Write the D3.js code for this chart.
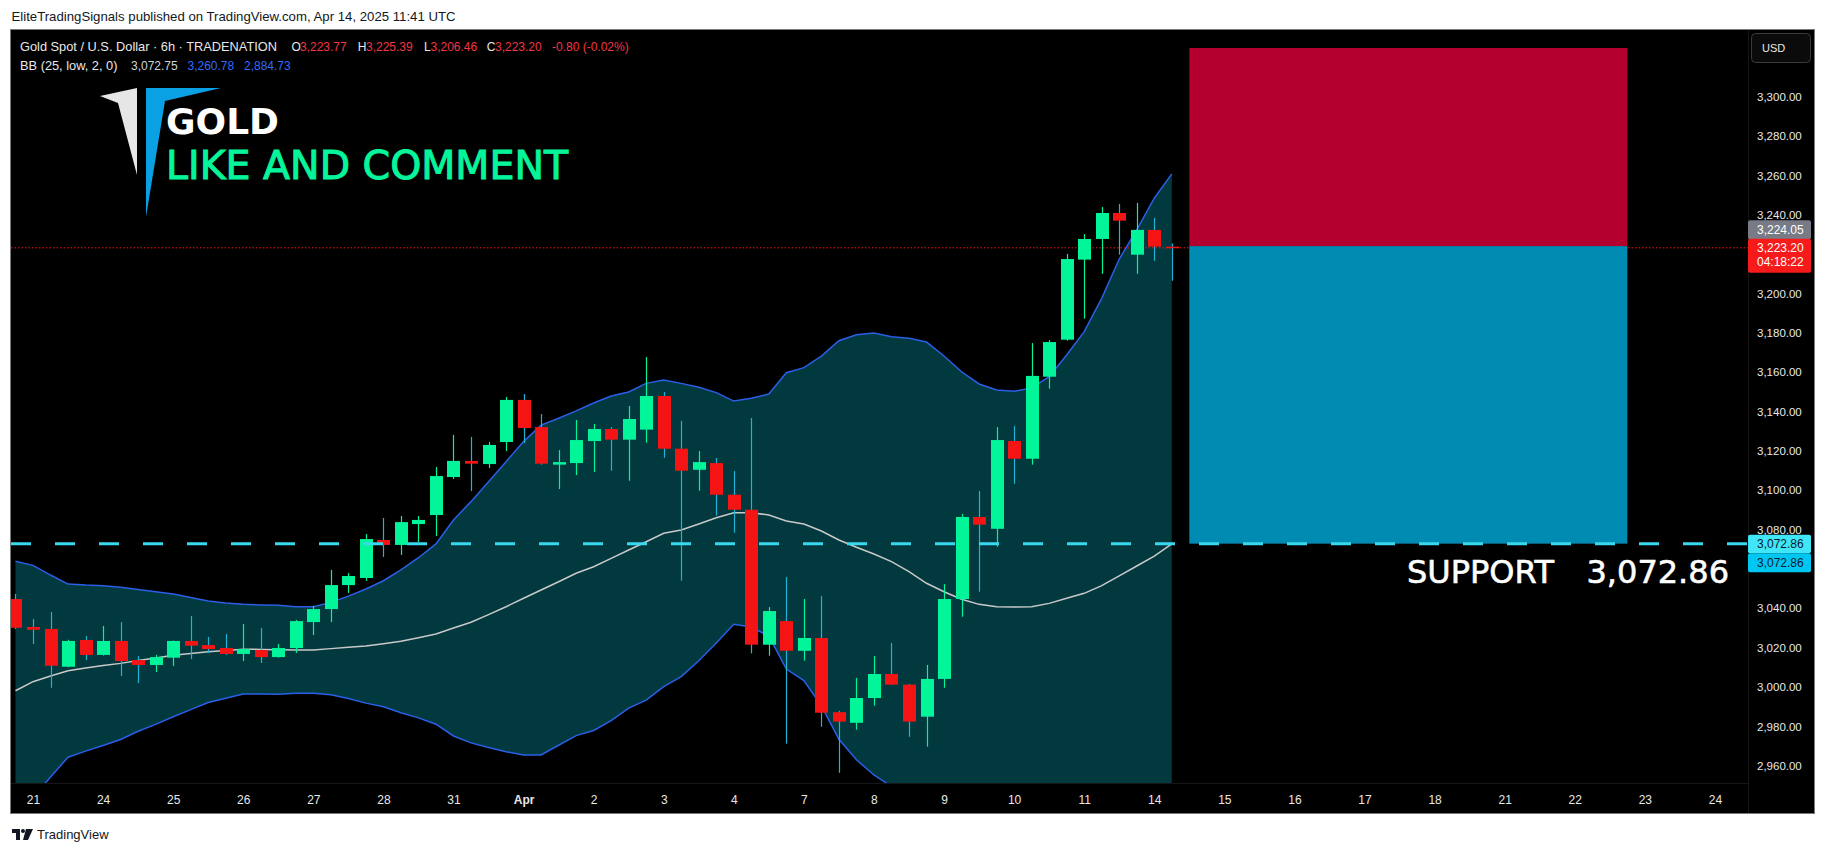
<!DOCTYPE html>
<html><head><meta charset="utf-8">
<script src="https://cdn.jsdelivr.net/npm/d3@7"></script>
<style>
html,body{margin:0;padding:0;background:#fff;}
svg{display:block;}
</style></head>
<body>
<svg id="c" width="1826" height="853"></svg>
<script>
// ---------- DATA ----------
const dayLabels = ["21","24","25","26","27","28","31","Apr","2","3","4","7","8","9","10","11","14","15","16","17","18","21","22","23","24"];
const barsPerDay = 4;
const firstBarIndex = -1; // first candle sits one bar before the "21" label

const opens  = [3044.7,3030.5,3029.5,3010.3,3023.9,3016.3,3023.4,3013.7,3011.2,3014.9,3023.4,3021.3,3019.8,3016.8,3018.8,3015.2,3019.8,3033.0,3039.6,3051.8,3055.4,3074.7,3072.2,3082.8,3087.4,3106.7,3114.9,3113.3,3124.5,3145.9,3132.1,3113.0,3113.8,3125.0,3131.1,3125.7,3130.8,3147.9,3121.1,3110.4,3113.8,3097.7,3090.1,3021.5,3033.5,3018.4,3024.9,2987.2,2981.8,2994.4,3006.6,3001.2,2984.9,3004.1,3044.7,3086.4,3080.4,3125.0,3116.0,3157.7,3176.5,3217.2,3227.7,3240.9,3219.7,3232.3,3223.77];
const highs  = [3047.3,3034.6,3038.1,3024.0,3025.9,3031.0,3033.0,3015.7,3016.3,3023.6,3036.1,3025.4,3026.9,3032.0,3030.0,3021.8,3034.0,3041.2,3059.5,3057.9,3077.7,3085.9,3086.9,3086.9,3111.8,3128.1,3127.1,3124.5,3147.4,3148.9,3138.7,3120.4,3135.7,3133.7,3132.1,3142.8,3167.7,3149.9,3135.2,3119.9,3116.4,3109.8,3136.7,3040.6,3055.9,3044.7,3046.2,2987.9,3004.6,3015.7,3022.4,3001.5,3011.2,3052.3,3087.9,3099.6,3132.1,3132.6,3174.8,3176.3,3220.1,3230.2,3243.9,3245.5,3246.0,3238.4,3225.39];
const lows   = [3029.5,3021.8,2999.6,3010.0,3013.7,3016.0,3005.6,3002.0,3007.6,3010.7,3014.2,3017.3,3016.3,3013.2,3012.2,3015.0,3017.3,3026.4,3033.0,3047.8,3053.9,3066.1,3067.1,3073.7,3076.7,3105.7,3099.6,3111.3,3119.9,3124.0,3113.0,3100.6,3107.7,3109.3,3109.9,3104.8,3124.2,3116.5,3054.0,3099.8,3087.1,3078.4,3017.1,3015.9,2971.2,3013.4,2979.8,2956.4,2978.3,2990.5,3001.0,2974.7,2969.7,2999.6,3035.7,3048.4,3071.3,3103.3,3113.0,3151.6,3176.0,3187.2,3210.0,3219.7,3210.0,3216.6,3206.46];
const closes = [3030.1,3029.1,3010.8,3023.4,3016.3,3023.4,3013.2,3011.2,3015.2,3023.4,3021.0,3019.3,3016.8,3019.3,3015.2,3019.8,3033.5,3039.6,3051.8,3056.4,3075.2,3072.2,3083.8,3084.9,3107.2,3114.9,3113.5,3123.0,3145.9,3131.6,3113.5,3114.3,3125.5,3131.1,3125.7,3136.2,3147.9,3121.1,3109.9,3114.3,3097.7,3090.1,3021.5,3038.6,3018.4,3024.9,2986.9,2982.4,2994.4,3006.6,3001.2,2982.4,3004.1,3044.7,3086.4,3082.5,3125.5,3116.0,3158.1,3175.3,3217.5,3227.7,3240.9,3237.0,3232.3,3223.8,3223.20];

const bbUpper = [3063.9,3061.8,3056.9,3052.3,3051.8,3051.5,3050.7,3049.5,3048.4,3047.3,3045.5,3043.7,3042.7,3042.0,3041.7,3041.5,3040.8,3040.8,3043.0,3046.2,3049.8,3054.0,3059.5,3065.7,3072.7,3084.9,3094.2,3104.3,3114.5,3124.7,3133.1,3136.6,3140.3,3144.3,3147.9,3149.9,3154.3,3156.0,3154.3,3152.3,3149.6,3145.3,3146.7,3148.9,3159.7,3162.3,3168.2,3176.0,3179.0,3179.9,3178.0,3177.2,3175.3,3168.2,3160.2,3154.0,3150.9,3150.3,3152.0,3157.7,3168.7,3180.6,3197.5,3217.5,3232.3,3248.4,3260.78];
const bbBasis = [2998.1,3002.7,3005.6,3008.3,3009.6,3010.9,3012.0,3013.5,3014.7,3016.1,3017.0,3017.9,3018.5,3019.2,3019.1,3018.9,3018.8,3018.8,3019.5,3020.2,3020.8,3022.0,3023.2,3025.0,3026.9,3030.0,3032.9,3036.8,3040.8,3045.1,3049.3,3053.5,3057.8,3061.1,3065.4,3069.6,3073.8,3078.1,3079.8,3082.8,3086.0,3088.6,3088.6,3087.4,3084.4,3082.8,3079.3,3074.7,3071.0,3067.6,3063.7,3058.6,3052.7,3048.4,3044.6,3042.0,3040.8,3040.6,3040.8,3042.5,3045.1,3047.6,3051.5,3056.5,3061.5,3066.5,3072.75];
const bbLower = [2932.3,2943.6,2954.3,2964.3,2967.4,2970.3,2973.3,2977.5,2981.0,2984.9,2988.5,2992.1,2994.3,2996.4,2996.5,2996.3,2996.8,2996.8,2996.0,2994.2,2991.8,2990.0,2986.9,2984.3,2981.1,2975.1,2971.6,2969.3,2967.1,2965.5,2965.5,2970.4,2975.3,2977.9,2982.9,2989.3,2993.3,3000.2,3005.3,3013.3,3022.4,3031.9,3030.5,3025.9,3009.1,3003.3,2990.4,2973.4,2963.0,2955.3,2949.4,2940.0,2930.1,2928.6,2929.0,2930.0,2930.7,2930.9,2929.6,2927.3,2921.5,2914.6,2905.5,2895.5,2890.7,2884.6,2884.73];

// ticks shown on the price scale (3,060 and 3,220 are hidden behind the price tags)
const priceTicks = [2960,2980,3000,3020,3040,3080,3100,3120,3140,3160,3180,3200,3240,3260,3280,3300];

const supportLevel = 3072.86;
const lastPrice = 3223.20;
const askPrice = 3224.05;
const countdown = "04:18:22";
const positionBars = [66, 91];           // start / end bar of the position tool
const positionLevels = [3324.75, 3224.05, 3072.86]; // stop, entry, target

const legendLabels = ["O","H","L","C"];
const legendValues = ["3,223.77","3,225.39","3,206.46","3,223.20"];
const legendChange = "-0.80 (-0.02%)";
const bbValues = ["3,072.75","3,260.78","2,884.73"];

// ---------- LAYOUT ----------
const svg = d3.select("#c");
const W = 1826, H = 853;
const frame = {l: 11, t: 30, r: 1814, b: 813};
const plot = {l: 11, t: 31, r: 1748, b: 783};
const FONT = "'Liberation Sans', Arial, sans-serif";

const x = d3.scaleLinear().domain([0, 96]).range([33, 33 + 96 * 17.52]);
const y = d3.scaleLinear().domain([2960, 3300]).range([765.7, 96.7]);
const bars = opens.map((o, i) => ({k: i + firstBarIndex, o, h: highs[i], l: lows[i], c: closes[i],
  up: bbUpper[i], mid: bbBasis[i], lo: bbLower[i]}));

svg.append("rect").attr("width", W).attr("height", H).attr("fill", "#ffffff");
svg.append("text").attr("x", 11.5).attr("y", 20.5).attr("font-family", FONT).attr("font-size", 13.2)
  .attr("fill", "#131722").text("EliteTradingSignals published on TradingView.com, Apr 14, 2025 11:41 UTC");

svg.append("rect").attr("x", frame.l - 0.5).attr("y", frame.t - 0.5)
  .attr("width", frame.r - frame.l + 1).attr("height", frame.b - frame.t + 1)
  .attr("fill", "#000").attr("stroke", "#7a7a7a").attr("stroke-width", 1);

// separators
svg.append("line").attr("x1", plot.r + 0.5).attr("x2", plot.r + 0.5).attr("y1", frame.t).attr("y2", frame.b)
  .attr("stroke", "#161616");
svg.append("line").attr("x1", frame.l).attr("x2", plot.r).attr("y1", plot.b + 0.5).attr("y2", plot.b + 0.5)
  .attr("stroke", "#161616");

svg.append("clipPath").attr("id", "plotClip").append("rect")
  .attr("x", plot.l).attr("y", plot.t).attr("width", plot.r - plot.l).attr("height", plot.b - plot.t);
const g = svg.append("g").attr("clip-path", "url(#plotClip)");

// Bollinger fill + lines
g.append("path").datum(bars)
  .attr("d", d3.area().x(d => x(d.k)).y0(d => y(d.lo)).y1(d => y(d.up)))
  .attr("fill", "#02393f");
const line = acc => d3.line().x(d => x(d.k)).y(d => y(acc(d)));
g.append("path").datum(bars).attr("d", line(d => d.up)).attr("fill", "none").attr("stroke", "#2a5fe8").attr("stroke-width", 1.5);
g.append("path").datum(bars).attr("d", line(d => d.lo)).attr("fill", "none").attr("stroke", "#2a5fe8").attr("stroke-width", 1.5);
g.append("path").datum(bars).attr("d", line(d => d.mid)).attr("fill", "none").attr("stroke", "#c9c9c9").attr("stroke-width", 1.5);

// last price dotted line
g.append("line").attr("x1", plot.l).attr("x2", plot.r).attr("y1", y(lastPrice)).attr("y2", y(lastPrice))
  .attr("stroke", "#f31818").attr("stroke-width", 1).attr("stroke-dasharray", "1.5,2");

// candles
const GREEN = "#03f59a", RED = "#f51414", RED_WICK = "#1fb4d6";
const cg = g.append("g").selectAll("g").data(bars).join("g");
cg.append("line").attr("x1", d => Math.round(x(d.k)) + 0.5).attr("x2", d => Math.round(x(d.k)) + 0.5)
  .attr("y1", d => y(d.h)).attr("y2", d => y(d.l))
  .attr("stroke", d => d.c >= d.o ? GREEN : RED_WICK).attr("stroke-width", 1.2);
cg.append("rect").attr("x", d => Math.round(x(d.k)) - 6).attr("width", 13)
  .attr("y", d => y(Math.max(d.o, d.c)))
  .attr("height", d => Math.max(1.5, Math.abs(y(d.o) - y(d.c))))
  .attr("fill", d => d.c >= d.o ? GREEN : RED);

// position tool
g.append("rect").attr("x", x(positionBars[0])).attr("width", x(positionBars[1]) - x(positionBars[0]))
  .attr("y", y(positionLevels[0])).attr("height", y(positionLevels[1]) - y(positionLevels[0]))
  .attr("fill", "#b3002f");
g.append("rect").attr("x", x(positionBars[0])).attr("width", x(positionBars[1]) - x(positionBars[0]))
  .attr("y", y(positionLevels[1])).attr("height", y(positionLevels[2]) - y(positionLevels[1]))
  .attr("fill", "#008cb2");

// support dashed line
g.append("line").attr("x1", plot.l).attr("x2", plot.r).attr("y1", y(supportLevel)).attr("y2", y(supportLevel))
  .attr("stroke", "#38d8ee").attr("stroke-width", 3).attr("stroke-dasharray", "20,24");

// support text
svg.append("text").attr("x", 1407).attr("y", 583).attr("font-family", "'DejaVu Sans', sans-serif")
  .attr("font-size", 32).attr("fill", "#fff").attr("stroke", "#fff").attr("stroke-width", 0.6).text("SUPPORT");
svg.append("text").attr("x", 1729).attr("y", 583).attr("text-anchor", "end").attr("font-family", "'DejaVu Sans', sans-serif")
  .attr("font-size", 32).attr("fill", "#fff").attr("stroke", "#fff").attr("stroke-width", 0.6).text(d3.format(",.2f")(supportLevel));

// logo
svg.append("polygon").attr("points", "100,96 137,88 137,175 118,103").attr("fill", "#e6e6e6");
svg.append("polygon").attr("points", "146,88 221,88 165,101 146,217").attr("fill", "#0aa0e4");
svg.append("text").attr("x", 166).attr("y", 134).attr("font-family", "'DejaVu Sans', sans-serif")
  .attr("font-weight", "bold").attr("font-size", 36).attr("fill", "#fff").text("GOLD");
svg.append("text").attr("x", 166).attr("y", 179).attr("font-family", "'DejaVu Sans', sans-serif")
  .attr("font-size", 39.5).attr("fill", "#05f59b").attr("stroke", "#05f59b").attr("stroke-width", 1).text("LIKE AND COMMENT");

// legend
const lg = svg.append("g").attr("font-family", FONT).attr("font-size", 12);
lg.append("text").attr("x", 20).attr("y", 51).attr("fill", "#e8e8e8").attr("font-size", 12.8).text("Gold Spot / U.S. Dollar · 6h · TRADENATION");
const lx = [291.6, 357.8, 424, 486.8], vx = [300, 366, 430.5, 495];
legendLabels.forEach((t, i) => {
  lg.append("text").attr("x", lx[i]).attr("y", 51).attr("fill", "#e8e8e8").text(t);
  lg.append("text").attr("x", vx[i]).attr("y", 51).attr("fill", "#f23645").text(legendValues[i]);
});
lg.append("text").attr("x", 552).attr("y", 51).attr("fill", "#f23645").text(legendChange);
lg.append("text").attr("x", 20).attr("y", 70).attr("fill", "#e8e8e8").attr("font-size", 12.8).text("BB (25, low, 2, 0)");
const bx = [131, 187.5, 244], bc = ["#d1d4dc", "#2f6bff", "#2f6bff"];
bbValues.forEach((t, i) => lg.append("text").attr("x", bx[i]).attr("y", 70).attr("fill", bc[i]).text(t));

// price axis
const ya = svg.append("g").attr("transform", `translate(${plot.r + 2},0)`)
  .call(d3.axisRight(y).tickValues(priceTicks).tickFormat(d3.format(",.2f")).tickSize(0).tickPadding(7));
ya.select(".domain").remove();
ya.selectAll("text").attr("fill", "#e8e8e8").attr("font-family", FONT).attr("font-size", 11.5);

// time axis
const xa = svg.append("g").attr("transform", `translate(0,${plot.b})`)
  .call(d3.axisBottom(x).tickValues(dayLabels.map((d, i) => i * barsPerDay)).tickFormat((d, i) => dayLabels[i]).tickSize(0).tickPadding(12));
xa.select(".domain").remove();
xa.selectAll("text").attr("fill", "#e8e8e8").attr("font-family", FONT).attr("font-size", 12)
  .attr("font-weight", (d, i) => dayLabels[i] === "Apr" ? "bold" : "normal");

// USD box
svg.append("rect").attr("x", 1751.5).attr("y", 33.5).attr("width", 59).attr("height", 29).attr("rx", 4)
  .attr("fill", "#0b0b0b").attr("stroke", "#3a3a3a");
svg.append("text").attr("x", 1762).attr("y", 52).attr("font-family", FONT).attr("font-size", 11)
  .attr("fill", "#e8e8e8").text("USD");

// price labels
const fmt = d3.format(",.2f");
function tag(y0, h, fill, lines, color) {
  svg.append("rect").attr("x", plot.r).attr("y", y0).attr("width", 63).attr("height", h).attr("rx", 2).attr("fill", fill);
  lines.forEach((t, i) => svg.append("text").attr("x", 1757).attr("y", y0 + 13.5 + i * 14)
    .attr("font-family", FONT).attr("font-size", 12).attr("fill", color).text(t));
}
tag(y(askPrice) - 26, 19, "#787b86", [fmt(askPrice)], "#ffffff");
tag(y(lastPrice) - 9, 34, "#f71a1a", [fmt(lastPrice), countdown], "#ffffff");
tag(y(supportLevel) - 9, 18.5, "#40e6f7", [fmt(supportLevel)], "#0b1a2a");
tag(y(supportLevel) + 9.5, 19, "#00c6f2", [fmt(supportLevel)], "#0b1a2a");

// TradingView footer
const fg = svg.append("g").attr("transform", "translate(12,829)");
fg.append("path").attr("d", "M0,0 H8 V11 H4 V4 H0 Z").attr("fill", "#131722");
fg.append("circle").attr("cx", 11).attr("cy", 2).attr("r", 2).attr("fill", "#131722");
fg.append("path").attr("d", "M14,0 H21 L16,11 H11 Z").attr("fill", "#131722");
svg.append("text").attr("x", 37).attr("y", 839).attr("font-family", FONT).attr("font-size", 13)
  .attr("fill", "#131722").text("TradingView");
</script>
</body></html>
